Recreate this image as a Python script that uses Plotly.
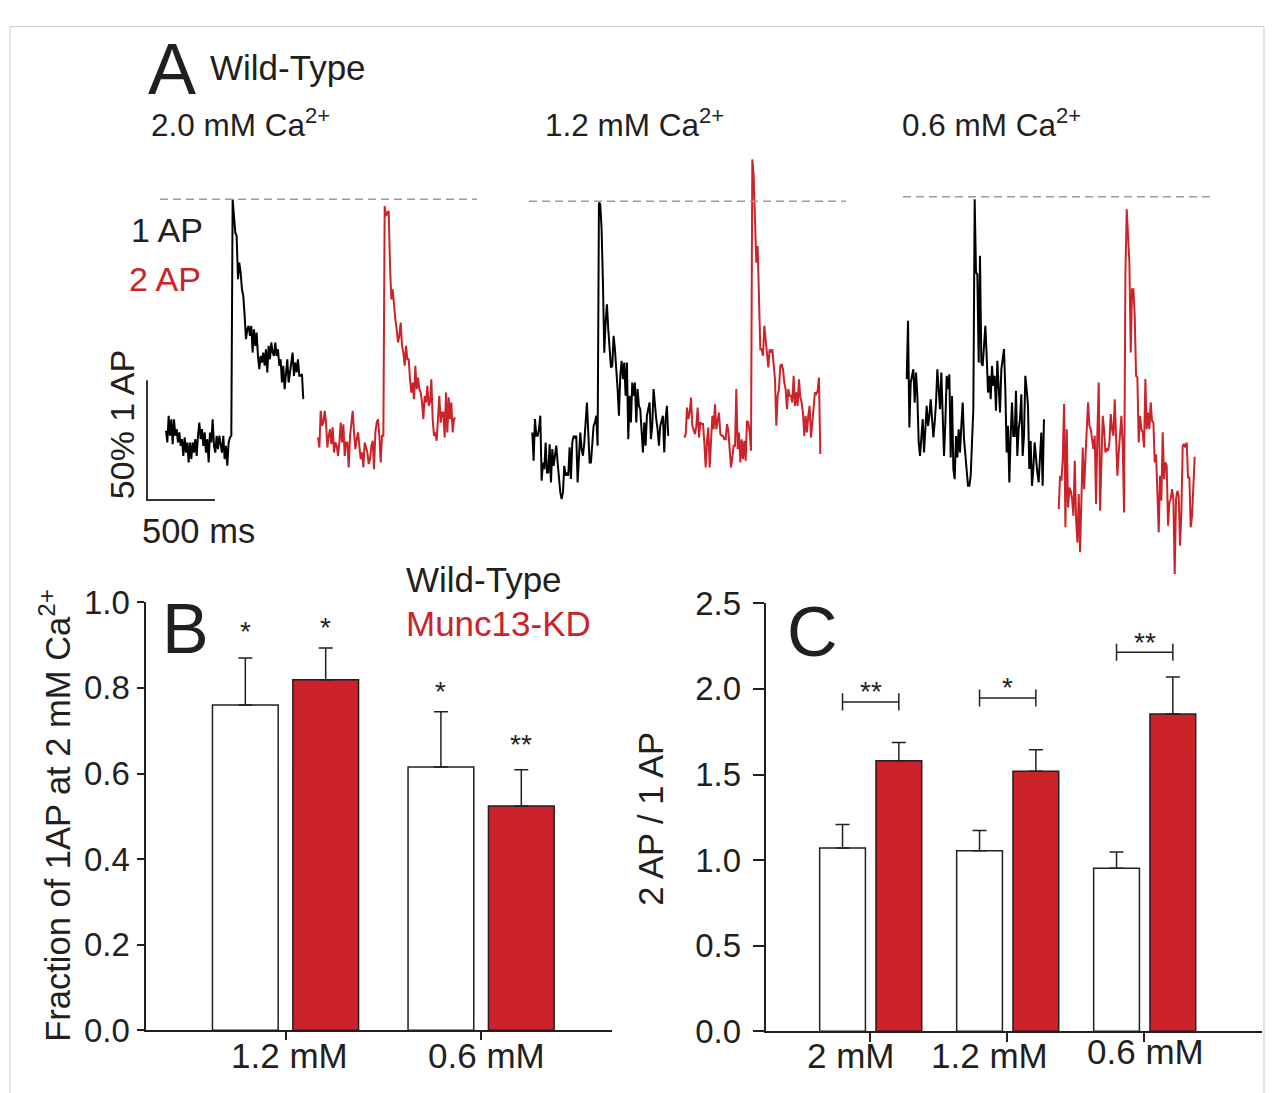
import numpy as np
import plotly.graph_objects as go

W, H = 1274, 1093
RED = "#CC2229"
INK = "#231F20"
GRAY = "#9A9A9A"
FONT = "Liberation Sans, Arial, Helvetica, sans-serif"

# ---------------- data ----------------
DT_MS = 9.8                 # sampling interval of the traces (ms)
TWO_AP_OFFSET_MS = 1118     # 2 AP trace displayed after the 1 AP trace
SCALE_MS, SCALE_PCT = 500, 50

CA_LABELS = ["2.0 mM Ca<sup>2+</sup>", "1.2 mM Ca<sup>2+</sup>", "0.6 mM Ca<sup>2+</sup>"]

# % of 1 AP peak, wild-type, 2.0 mM Ca
ONE_AP_20 = [3.5, -1.4, 9.7, 1.4, 8.3, -2.1, 8.3, 1.4, 4.2, -1.4, 2.8, -2.8, 0, -7, 0.7, -5.6, -1.4, -9.7,
             -1.4, -8.3, -1.4, -5.6, 0, -7, 1.4, 6.9, 0, 4.2, -2.8, 2.8, -5.6, 0, -9.7, 2.8, -1.4, 8.3, -2.8,
             -5.6, 1.4, -4.2, 1.4, -1.4, -5.6, 1.4, -8.3, -2.8, -11.1, -1.4, 0.7, 1.4,
             100, 93.1, 86.1, 84.7, 66.7, 73.6, 69.4, 62.5, 59.7, 51.4, 41.7, 45.8, 47.2, 43.1, 47.2, 36.1,
             45.8, 38.9, 44.4, 34.7, 29.2, 34.7, 31.9, 36.1, 30.6, 37.5, 27.8, 38.9, 33.3, 40.3, 36.1, 34.7,
             40.3, 34.7, 37.5, 30.6, 33.3, 23.6, 30.6, 20.8, 29.2, 33.3, 23.6, 27.8, 30.6, 36.1, 26.4, 31.9,
             27.8, 33.3, 26.4, 26.4, 27.1, 16.7]
TWO_AP_20 = [0.7, -3.5, 11.8, 5.6, 6.9, 11.8, 6.9, -3.5, 1.4, 4.2, -2.1, 4.9, -5.6, -1.4, -2.8, -7, -1.4, 6.9,
             -1.4, 6.2, -7, -1.4, -1.4, -11.8, 1.4, 6.9, 11.8, 2.8, -4.2, 0, 2.8, -2.8, -8.3, -5.6, -11.8,
             -1.4, -4.2, -5.6, -10.4, -8.3, -2.8, -0.7, -12.5, 2.8, 6.9, 8.3, 1.4, -9.7, 1.4, 1.4,
             97.2, 93.1, 94.4, 95.1, 72.2, 58.3, 62.5, 55.6, 50, 45.8, 40.3, 43.1, 48.6, 38.9, 36.1, 30.6,
             38.9, 33.3, 33.3, 25, 19.4, 23.6, 16.7, 30.6, 20.8, 25.7, 20.8, 19.4, 15.3, 8.3, 18.1, 15.3,
             22.2, 13.9, 15.3, 25, 8.3, 1.4, 2.8, -0.7, 9.7, 18.1, 6.9, 11.1, 11.1, 0.7, 19.4, 2.8, 17.4,
             8.3, 15.3, 2.8, 8.3, 9]
# 1.2 mM Ca
ONE_AP_12 = [3.6, -8.2, 9.2, 2.2, 2.2, 5, 10.6, -16.5, -8.9, -11.7, -0.6, -13.1, -13.1, -1.3, -17.2, -3.3,
             -10.3, -6.1, -1.9, -8.9, -15.8, -21.4, -24.2, -21.4, -10.3, -14.4, -13.1, -14.4, -2.6, -15.8,
             -0.6, 2.2, 1.5, 2.2, -17.2, -6.1, 3.6, -3.3, -6.1, -0.6, 7.8, 16.1, 3.6, -8.9, -8.9, 0.8, 6.4,
             7.8, 10.6, -1.9,
             99.4, 98.8, 88.3, 66.1, 36.9, 49.4, 57.1, 46.7, 39.7, 30.7, 31.4, 43.9, 38.3, 31.4, 21.7, 10.6,
             27.2, 33.5, 25.8, 32.8, 18.9, 32.8, 0.8, 18.9, 7.8, 24.4, 18.9, 24.4, 7.8, 21.7, 14.7, 13.3, 5,
             -4.7, 7.8, -1.9, 10.6, 13.3, 16.1, 0.8, 6.4, 21.7, 14.7, 9.2, 5, -1.9, 6.4, 9.2, 10.6, -4.7,
             9.2, 14.7, 2.2]
TWO_AP_12 = [1.5, 2.9, 14, 9.2, 11.9, 18.2, 6.4, 5, 2.9, 6.4, 14, 1.5, 7.8, 7.1, 7.1, -0.6, -11, 0.1, 5.7,
             -11, -1.9, 10.6, 5, 15.4, 5, 9.2, 11.9, 2.9, 2.2, 2.2, 0.8, 0.8, 7.1, 4.3, -6.1, -11, -6.8,
             -1.9, -1.9, 21.7, -3.3, 3.6, -8.9, 0.8, -7.5, 0.1, -8.2, 8.5, 7.8, 3.6, -4,
             117.5, 110.6, 95.3, 74.4, 81.4, 63.3, 38.3, 38.3, 35.6, 48.1, 41.1, 36.9, 30.7, 38.3, 36.9,
             38.3, 30, 25.8, 6.4, 18.9, 21.7, 31.4, 32.1, 30, 24.4, 21.7, 13.3, 21.7, 18.9, 18.9, 16.1,
             27.2, 14.7, 20.3, 14.7, 25.8, 18.2, 16.1, 11.9, 2.2, 10.6, 3.6, 10.6, 14.7, 1.5, 7.8, 16.1,
             20.3, 19.6, 21, 26.5, -5.4]
# 0.6 mM Ca
ONE_AP_06 = [23.9, 48.2, 3.7, 22.5, 25.3, 28, 14.1, 26.6, 16.9, -2.5, -8.1, 1.6, 7.2, -6.7, 5.8, 12.8, 4.4,
             8.6, 15.5, 5.8, -0.4, 5.8, 14.1, 28, 16.9, 11.4, 26.6, 11.4, -8.1, 5.8, 25.3, 19.7, 25.9, -8.8,
             16.9, -13.6, -17.8, 0.2, -8.8, 3, -6.7, 4.4, 14.1, -1.1, -8.1, -13.6, -20.6, -20.6, -16.4,
             -2.5, 11.4,
             98.9, 68.3, 67.6, 30.8, 75.3, 30.8, 29.4, 37.8, 46.1, 33.6, 18.3, 25.3, 15.5, 29.4, 21.1, 25.3,
             10.7, 31.5, 19.7, 10, 28, 33.6, 36.4, 19.7, -6.7, 4.4, -19.2, 0.2, 14.1, 0.2, 0.2, 19, -8.1, 3,
             7.2, 17.6, -8.1, 0.2, 25.3, 19.7, 12.8, -13.6, -1.9, -20.6, -13.6, -2.5, -10.9, -15, -19.2,
             -5.3, 1.6, -20.6, 7.2]
TWO_AP_06 = [-30.3, -16.4, -18.5, -9.5, 13.5, -37.9, 3, -29.6, -21.3, -22.7, -26.1, -33.1, -10.1, -34.5,
             -44.2, -24, -48.3, -24.7, -4.6, -22, -6.7, 3, 14.2, 4.4, 3, -2.5, -5.3, 0.3, -28.2, 1.7, 22.5,
             -31, -8.1, 8.6, 3, -6.7, -5.3, -6, -2.5, 9.3, 3, 0.3, 15.5, 1.7, -16.4, -6.7, 1.7, 8.6, -3.9,
             -31.7,
             66.9, 94.7, 83.6, 72.5, 35, 61.4, 61.4, 50.3, 25.3, 24.6, -2.5, 8.6, 3, 1.7, -4.6, 23.9, 3, 10,
             3, 14.2, 6.5, 5.8, -10.8, -7.4, -23.3, -40, -16.4, -26.8, 1.7, -17.8, -10.8, -12.2, -37.2,
             -27.5, -26.1, -22, -26.1, -57.4, -26.1, -22.7, -24.7, -45.6, -31.7, -3.9, -3.2, -4.6, -2.5,
             -17.1, -17.1, -37.9, -33.1, -20.6, -8.5]

ONE_AP = [ONE_AP_20, ONE_AP_12, ONE_AP_06]
TWO_AP = [TWO_AP_20, TWO_AP_12, TWO_AP_06]

# Panel B: fraction of 1 AP response at 2 mM Ca
B_CATS = ["1.2 mM", "0.6 mM"]
B_WT = [0.760, 0.615]
B_WT_ERR = [0.110, 0.129]
B_KD = [0.819, 0.524]
B_KD_ERR = [0.074, 0.085]
B_WT_SIG = ["*", "*"]
B_KD_SIG = ["*", "**"]
B_WT_SIG_Y = [0.940, 0.800]
B_KD_SIG_Y = [0.951, 0.678]

# Panel C: 2 AP / 1 AP
C_CATS = ["2 mM", "1.2 mM", "0.6 mM"]
C_WT = [1.070, 1.054, 0.953]
C_WT_ERR = [0.138, 0.119, 0.094]
C_KD = [1.580, 1.519, 1.854]
C_KD_ERR = [0.107, 0.125, 0.216]
C_SIG = ["**", "*", "**"]
C_BRACKET_Y = [1.924, 1.947, 2.214]
C_SIG_Y = [2.010, 2.029, 2.296]

# ---------------- layout helpers ----------------
# design coordinates are page pixels of the photographed page; convert to paper fractions
OX, OY, SY = 8.0, 26.5, 0.967


def px(x):
    return (x - OX) / W


def py(y):
    return 1 - ((y - OY) / SY) / H


def xd(a, b):
    return [px(a), px(b)]


def yd(top, bottom):
    return [py(bottom), py(top)]


PX_PER_MS = 68 / 500.0
PX_PER_PCT = 120 / 50.0
A_TOP, A_BOT = 150, 585
# (domain left, domain right, trace start x, baseline y) in page pixels
A_PANELS = [(160, 477, 166, 440), (529, 846, 532.3, 442), (903, 1212, 906.7, 437.3)]

fig = go.Figure()
layout_axes = {}
shapes = []

for i, (d0, d1, s0, base) in enumerate(A_PANELS):
    k = "" if i == 0 else str(i + 1)
    xa, ya = "x" + k, "y" + k
    one = ONE_AP[i]
    two = TWO_AP[i]
    t1 = np.arange(len(one)) * DT_MS
    t2 = TWO_AP_OFFSET_MS + np.arange(len(two)) * DT_MS
    fig.add_trace(go.Scatter(x=t1, y=one, mode="lines", line=dict(color="black", width=2),
                             xaxis=xa, yaxis=ya, hoverinfo="skip"))
    fig.add_trace(go.Scatter(x=t2, y=two, mode="lines", line=dict(color=RED, width=2),
                             xaxis=xa, yaxis=ya, hoverinfo="skip"))
    layout_axes["xaxis" + k] = dict(domain=xd(d0, d1), range=[(d0 - s0) / PX_PER_MS, (d1 - s0) / PX_PER_MS],
                                    visible=False, anchor=ya)
    layout_axes["yaxis" + k] = dict(domain=yd(A_TOP, A_BOT),
                                    range=[(base - A_BOT) / PX_PER_PCT, (base - A_TOP) / PX_PER_PCT],
                                    visible=False, anchor=xa)
    shapes.append(dict(type="line", xref=xa + " domain", x0=0, x1=1, yref=ya, y0=100, y1=100,
                       line=dict(color=GRAY, width=1.5, dash="8px,5px")))

# scale bar subplot (x4 / y4)
sb_x0, sb_y0 = 147, 501
layout_axes["xaxis4"] = dict(domain=xd(140, 230), range=[(140 - sb_x0) / PX_PER_MS, (230 - sb_x0) / PX_PER_MS],
                             visible=False, anchor="y4")
layout_axes["yaxis4"] = dict(domain=yd(370, 510), range=[(sb_y0 - 510) / PX_PER_PCT, (sb_y0 - 370) / PX_PER_PCT],
                             visible=False, anchor="x4")
fig.add_trace(go.Scatter(x=[0, 0, SCALE_MS], y=[SCALE_PCT, 0, 0], mode="lines",
                         line=dict(color="#333333", width=2), xaxis="x4", yaxis="y4", hoverinfo="skip"))

# ---------------- panel B (x5 / y5) ----------------
B_OFF_WT, B_OFF_KD, B_W = -0.374, 0.037, 0.336
bx = list(range(len(B_CATS)))
err_style = dict(type="data", symmetric=False, thickness=1.5, width=7, color=INK)
fig.add_trace(go.Bar(x=bx, y=B_WT, offset=B_OFF_WT, width=B_W, xaxis="x5", yaxis="y5",
                     marker=dict(color="white", line=dict(color=INK, width=1.5)),
                     error_y=dict(array=B_WT_ERR, arrayminus=[0] * len(B_WT), **err_style)))
fig.add_trace(go.Bar(x=bx, y=B_KD, offset=B_OFF_KD, width=B_W, xaxis="x5", yaxis="y5",
                     marker=dict(color=RED, line=dict(color=INK, width=1.5)),
                     error_y=dict(array=B_KD_ERR, arrayminus=[0] * len(B_KD), **err_style)))


def axis_style(ticklen):
    return dict(showline=True, linewidth=2, linecolor=INK, ticks="outside", ticklen=ticklen, tickwidth=2,
                tickcolor=INK, showgrid=False, zeroline=False, tickfont=dict(size=33, color=INK, family=FONT))


B_X0, B_X1, B_T0, B_STEP = 145.5, 612, 285.6, 195.6
layout_axes["xaxis5"] = dict(domain=xd(B_X0, B_X1), range=[(B_X0 - B_T0) / B_STEP, (B_X1 - B_T0) / B_STEP],
                             tickvals=bx, showticklabels=False, anchor="y5", **axis_style(8))
layout_axes["yaxis5"] = dict(domain=yd(603.3, 1031.7), range=[0, 1.0], tickvals=[0, 0.2, 0.4, 0.6, 0.8, 1.0],
                             tickformat=".1f", anchor="x5", **axis_style(7))

annotations = []
STAR_FONT = dict(size=28, color=INK, family=FONT)
for i in bx:
    annotations.append(dict(x=i + B_OFF_WT + B_W / 2, y=B_WT_SIG_Y[i], xref="x5", yref="y5", text=B_WT_SIG[i],
                            showarrow=False, font=STAR_FONT, yshift=-4))
    annotations.append(dict(x=i + B_OFF_KD + B_W / 2, y=B_KD_SIG_Y[i], xref="x5", yref="y5", text=B_KD_SIG[i],
                            showarrow=False, font=STAR_FONT, yshift=-4))

CAT_FONT = dict(size=35, color=INK, family=FONT)
B_LABEL_SHIFT = [0.022, 0.025]
for i in bx:
    annotations.append(dict(x=i + B_LABEL_SHIFT[i], y=py(1057), xref="x5", yref="paper", text=B_CATS[i],
                            showarrow=False, yanchor="middle", font=CAT_FONT))

# ---------------- panel C (x6 / y6) ----------------
C_OFF_WT, C_OFF_KD, C_W = -0.366, 0.045, 0.334
cx = list(range(len(C_CATS)))
fig.add_trace(go.Bar(x=cx, y=C_WT, offset=C_OFF_WT, width=C_W, xaxis="x6", yaxis="y6",
                     marker=dict(color="white", line=dict(color=INK, width=1.5)),
                     error_y=dict(array=C_WT_ERR, arrayminus=[0] * len(C_WT), **err_style)))
fig.add_trace(go.Bar(x=cx, y=C_KD, offset=C_OFF_KD, width=C_W, xaxis="x6", yaxis="y6",
                     marker=dict(color=RED, line=dict(color=INK, width=1.5)),
                     error_y=dict(array=C_KD_ERR, arrayminus=[0] * len(C_KD), **err_style)))

C_X0, C_X1, C_T0, C_STEP = 765.7, 1262, 869.8, 137.0
layout_axes["xaxis6"] = dict(domain=xd(C_X0, C_X1), range=[(C_X0 - C_T0) / C_STEP, (C_X1 - C_T0) / C_STEP],
                             tickvals=cx, showticklabels=False, anchor="y6", **axis_style(9))
layout_axes["yaxis6"] = dict(domain=yd(604.3, 1032.7), range=[0, 2.5], tickvals=[0, 0.5, 1.0, 1.5, 2.0, 2.5],
                             tickformat=".1f", anchor="x6", ticklabelstandoff=5, **axis_style(11))

# significance brackets in C
bxs, bys = [], []
half = 0.05
for i in cx:
    xa_ = i + C_OFF_WT + C_W / 2
    xb_ = i + C_OFF_KD + C_W / 2
    lv = C_BRACKET_Y[i]
    bxs += [xa_, xa_, None, xa_, xb_, None, xb_, xb_, None]
    bys += [lv - half, lv + half, None, lv, lv, None, lv - half, lv + half, None]
    annotations.append(dict(x=(xa_ + xb_) / 2, y=C_SIG_Y[i], xref="x6", yref="y6", text=C_SIG[i],
                            showarrow=False, font=STAR_FONT, yshift=-4))
fig.add_trace(go.Scatter(x=bxs, y=bys, mode="lines", line=dict(color=INK, width=1.5),
                         xaxis="x6", yaxis="y6", hoverinfo="skip"))

# C category labels (slightly offset from ticks, as in the original)
C_LABEL_SHIFT = [-0.137, -0.123, 0.01]
C_LABEL_Y = [1057, 1057, 1053]
for i in cx:
    annotations.append(dict(x=i + C_LABEL_SHIFT[i], y=py(C_LABEL_Y[i]), xref="x6", yref="paper", text=C_CATS[i],
                            showarrow=False, yanchor="middle", font=CAT_FONT))


# ---------------- text ----------------
def txt(x, y, s, size, color=INK, xanchor="left", angle=0):
    annotations.append(dict(x=px(x), y=py(y), xref="paper", yref="paper", text=s, showarrow=False,
                            xanchor=xanchor, yanchor="middle", textangle=angle,
                            font=dict(size=size, color=color, family=FONT)))


txt(146, 70, "A", 72)
txt(208, 68, "Wild-Type", 35)
for lab, x0 in zip(CA_LABELS, [149, 543, 900]):
    txt(x0, 124, lab, 31.5)
txt(129, 231, "1 AP", 34)
txt(127, 280, "2 AP", 34, color=RED)
txt(122, 426, "50% 1 AP", 34, xanchor="center", angle=-90)
txt(140, 532, "500 ms", 34.5)
txt(160, 630, "B", 70)
txt(404, 580, "Wild-Type", 35)
txt(404, 625, "Munc13-KD", 35, color=RED)
txt(785, 633, "C", 70)
txt(55, 817, "Fraction of 1AP at 2 mM Ca<sup>2+</sup>", 34.5, xanchor="center", angle=-90)
txt(651, 820, "2 AP / 1 AP", 34.5, xanchor="center", angle=-90)

# outer frame
shapes.append(dict(type="rect", xref="paper", yref="paper", x0=px(10), x1=px(1264), y0=-0.05, y1=1 - 0.6 / H,
                   line=dict(color="#C8C8C8", width=1)))

fig.update_layout(width=W, height=H, margin=dict(l=0, r=0, t=0, b=0), paper_bgcolor="white",
                  plot_bgcolor="rgba(0,0,0,0)", showlegend=False, barmode="overlay",
                  font=dict(family=FONT, color=INK), shapes=shapes, annotations=annotations, **layout_axes)

fig.write_html("out.html")
